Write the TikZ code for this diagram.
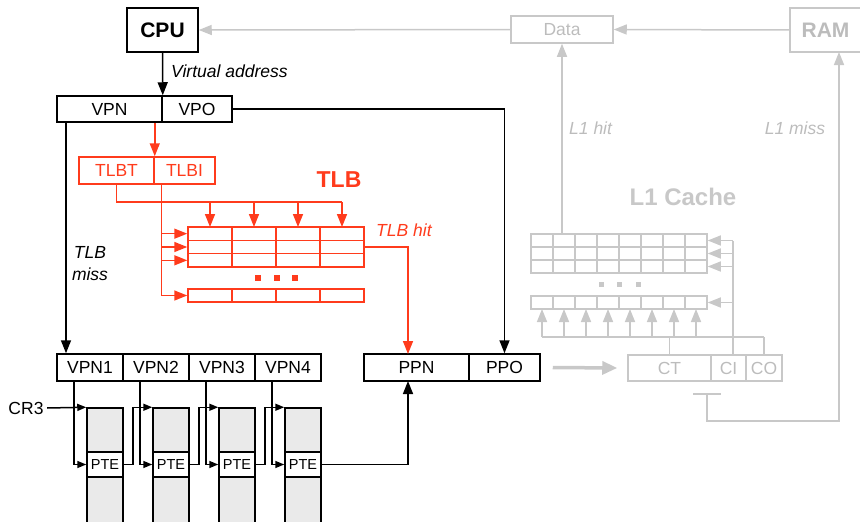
\documentclass[tikz,border=0pt]{standalone}
\usepackage{fontspec}
\setmainfont{Liberation Sans}
\usetikzlibrary{arrows.meta,calc}
\definecolor{tred}{RGB}{255,59,28}
\definecolor{lgray}{RGB}{200,200,200}
\definecolor{gtext}{RGB}{188,188,188}
\definecolor{ptefill}{RGB}{234,234,234}
\begin{document}
\begin{tikzpicture}[x=1pt,y=-1pt,
  lbl/.style={font=\fontsize{17.5}{20}\selectfont},
  ilbl/.style={font=\itshape\fontsize{17.5}{20}\selectfont},
  box/.style={draw, line width=1.5pt, inner sep=0pt, minimum height=26pt, font=\fontsize{17.5}{20}\selectfont},
  rbox/.style={box, draw=tred, text=tred},
  gbox/.style={box, draw=lgray, text=gtext},
  tlbrow/.style={draw=tred, line width=1.5pt, inner sep=0pt, minimum width=176pt, minimum height=13.3pt},
  cacherow/.style={draw=lgray, line width=1.5pt, inner sep=0pt, minimum width=176pt, minimum height=13pt},
  colbox/.style={draw, line width=1.5pt, fill=ptefill, inner sep=0pt, minimum width=36pt},
  ptebox/.style={draw, line width=1.5pt, fill=white, inner sep=0pt, minimum width=36pt, minimum height=25pt, font=\fontsize{14.5}{16}\selectfont},
  bl/.style={line width=1.5pt, black},
  rl/.style={line width=1.5pt, tred},
  gl/.style={line width=1.5pt, lgray},
  arr/.style={-{Triangle[length=13pt,width=10pt]}},
  sarr/.style={-{Triangle[length=9pt,width=7pt]}},
]
\useasboundingbox (0,0) rectangle (860,522);

% ---------- black part ----------
\node[box, font=\bfseries\fontsize{21}{24}\selectfont, minimum width=71pt, minimum height=44pt] (cpu) at (162.5,30) {CPU};
\node[box, minimum width=105pt] (vpn) at (109.5,109) {VPN};
\node[box, minimum width=70pt] (vpo) at (197,109) {VPO};
\draw[bl, arr] (cpu.south) -- (vpn.north east);
\node[ilbl, anchor=west, inner sep=0pt] (va) at (171,71) {Virtual address};

% ---------- TLB ----------
\node[rbox, minimum width=75pt, minimum height=27pt] (tlbt) at (116.5,170.5) {TLBT};
\node[rbox, minimum width=61pt, minimum height=27pt] (tlbi) at (184.5,170.5) {TLBI};
\draw[rl, arr] (vpn.south -| tlbt.north east) -- (tlbt.north east);

\node[tlbrow] (tr1) at (276,233.67) {};
\node[tlbrow] (tr2) at (276,247) {};
\node[tlbrow] (tr3) at (276,260.33) {};
\node[tlbrow, minimum height=13pt] (tr4) at (276,295.5) {};
\foreach \x in {232,276,320} {
  \draw[rl] (\x,227) -- (\x,267);
  \draw[rl] (\x,289) -- (\x,302);
}
\coordinate (bus) at (342,202);
\draw[rl] (tlbt.south) |- (bus);
\foreach \x in {210,254,298,342} \draw[rl, arr] (\x,202) -- (\x,227);
\draw[rl] (vpo.west |- tlbi.south) -- (vpo.west |- tr4.west);
\foreach \i in {1,2,3,4} \draw[rl, arr] (tr\i.west -| vpo.west) -- (tr\i.west);
\foreach \x in {258,277,295} \fill[tred] ({\x-3},275) rectangle ({\x+3},281);
\node[font=\bfseries\fontsize{23}{26}\selectfont, text=tred] (tlblbl) at (339,180) {TLB};
\node[ilbl, text=tred, anchor=west, inner sep=0pt] (tlbhit) at (376,230) {TLB hit};

% ---------- TLB miss / page tables ----------
\coordinate (vpnm) at (66,122);
\node[box, minimum width=66pt, minimum height=27pt] (vp1) at (90,367.5) {VPN1};
\node[box, minimum width=66pt, minimum height=27pt] (vp2) at (156,367.5) {VPN2};
\node[box, minimum width=66pt, minimum height=27pt] (vp3) at (222,367.5) {VPN3};
\node[box, minimum width=66pt, minimum height=27pt] (vp4) at (288,367.5) {VPN4};
\draw[bl, arr] (vpnm) -- (vpnm |- vp1.north);
\node[ilbl, align=center, inner sep=0pt] (tlbmiss) at (90,264) {TLB\\[2pt]miss};

\node[box, minimum width=105pt, minimum height=27pt] (ppn) at (416.5,367.5) {PPN};
\node[box, minimum width=71pt, minimum height=27pt] (ppo) at (504.5,367.5) {PPO};
\draw[bl, arr] (vpo.east) -| (ppo.north);
\coordinate (ppnin) at (408,354);
\coordinate (ppnbot) at (408,381);
\draw[rl, arr] (tr2.east) -| (ppnin);

\foreach \k/\cx in {1/105,2/171,3/237,4/303} {
  \node[colbox, minimum height=44pt] (pt\k) at (\cx,430) {};
  \node[ptebox] (pte\k) at (\cx,464.5) {PTE};
  \node[colbox, minimum height=46pt] (pb\k) at (\cx,500) {};
  \draw[bl, sarr] ($(vp\k.south)+(-16,0)$) |- (pte\k.west);
}
\node[lbl] (cr3) at (26,408) {CR3};
\draw[bl, sarr] (cr3.east) -- (pt1.north west);
\draw[bl, sarr] (pte1.east) -- ++(9,0) |- (pt2.north west);
\draw[bl, sarr] (pte2.east) -- ++(9,0) |- (pt3.north west);
\draw[bl, sarr] (pte3.east) -- ++(9,0) |- (pt4.north west);
\draw[bl, arr] (pte4.east) -| (ppnbot);

% ---------- gray part ----------
\node[gbox, minimum width=102pt, minimum height=27pt] (data) at (562,29.5) {Data};
\node[gbox, font=\bfseries\fontsize{21}{24}\selectfont, minimum width=71pt, minimum height=44pt] (ram) at (825.5,30) {RAM};
\draw[gl, arr] (ram.west) -- (data.east);
\draw[gl, arr] (data.west) -- (cpu.east);

\node[cacherow] (cr1) at (619,240.5) {};
\node[cacherow] (cr2) at (619,253.5) {};
\node[cacherow] (cr3r) at (619,266.5) {};
\node[cacherow] (cr4) at (619,302.5) {};
\foreach \x in {553,575,597,619,641,663,685} {
  \draw[gl] (\x,234) -- (\x,273);
  \draw[gl] (\x,296) -- (\x,309);
}
\foreach \x in {601,619,638} \fill[lgray] ({\x-2.5},281.5) rectangle ({\x+2.5},286.5);
\node[font=\bfseries\fontsize{24}{27}\selectfont, text=lgray] (l1c) at (683,197) {L1 Cache};

\node[gbox, minimum width=83pt] (ct) at (669.5,368) {CT};
\node[gbox, minimum width=35pt] (ci) at (728.5,368) {CI};
\node[gbox, minimum width=36pt] (co) at (764,368) {CO};

\coordinate (cibus) at (733,355);
\draw[gl] (cibus) -- (733,240.5);
\draw[gl, arr] (733,240.5) -- (cr1.east);
\draw[gl, arr] (733,253.5) -- (cr2.east);
\draw[gl, arr] (733,266.5) -- (cr3r.east);
\draw[gl, arr] (733,302.5) -- (cr4.east);

\coordinate (tbus) at (542,337);
\draw[gl] (tbus) -- (764,337);
\draw[gl] (ct.north) -- (ct.north |- tbus);
\draw[gl] (co.north) -- (co.north |- tbus);
\foreach \x in {542,564,586,608,630,652,674,696} \draw[gl, arr] (\x,337) -- (\x,309);

\draw[gl, arr] (data.south |- cr1.north) -- (data.south);
\node[ilbl, text=gtext, anchor=west, inner sep=0pt] (l1hit) at (569,128) {L1 hit};
\node[ilbl, text=gtext, inner sep=0pt] (l1miss) at (795,128) {L1 miss};

\coordinate (bar) at (707,394);
\draw[gl] (693,394) -- (721,394);
\draw[gl, arr] (bar) |- (839,421) -- (839,52);

\draw[lgray, line width=3.5pt, -{Triangle[length=15pt,width=13pt]}] ($(ppo.east)+(12,0)$) -- ($(ct.west)+(-10,0)$);
\end{tikzpicture}
\end{document}
